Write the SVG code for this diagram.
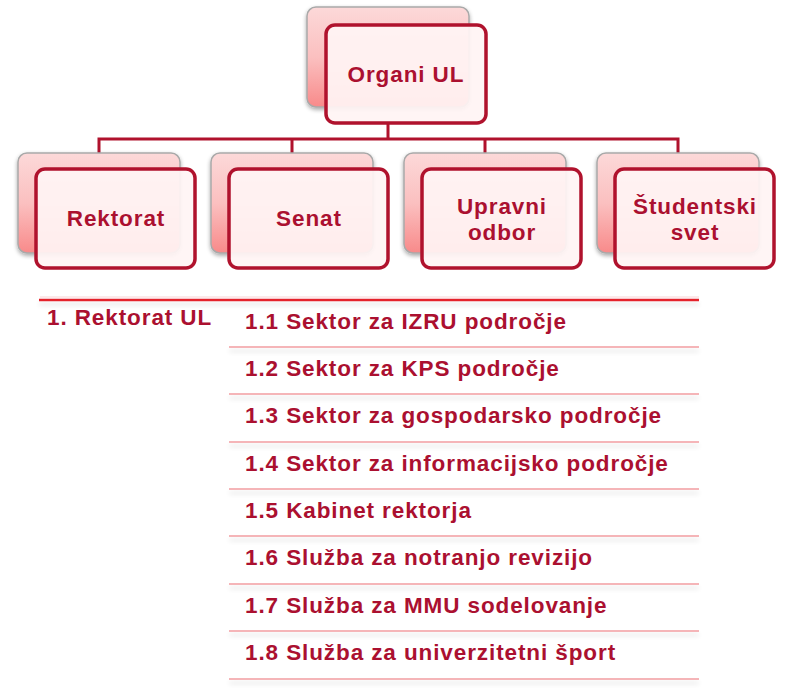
<svg xmlns="http://www.w3.org/2000/svg" width="800" height="691" viewBox="0 0 800 691">
<defs>
  <linearGradient id="backGrad" x1="0" y1="0" x2="0" y2="1">
    <stop offset="0" stop-color="#fcd9d9"/>
    <stop offset="0.5" stop-color="#fbc0c0"/>
    <stop offset="1" stop-color="#f88a8a"/>
  </linearGradient>
  <filter id="soft" x="-10%" y="-10%" width="120%" height="130%">
    <feGaussianBlur in="SourceAlpha" stdDeviation="2"/>
    <feOffset dx="0" dy="2"/>
    <feComponentTransfer><feFuncA type="linear" slope="0.35"/></feComponentTransfer>
    <feMerge><feMergeNode/><feMergeNode in="SourceGraphic"/></feMerge>
  </filter>
  <filter id="lineShadow" filterUnits="userSpaceOnUse" x="0" y="0" width="800" height="691">
    <feGaussianBlur in="SourceAlpha" stdDeviation="2.5"/>
    <feOffset dx="0" dy="4"/>
    <feComponentTransfer><feFuncA type="linear" slope="0.12"/></feComponentTransfer>
    <feMerge><feMergeNode/><feMergeNode in="SourceGraphic"/></feMerge>
  </filter>
</defs>
<style>
  .back { fill: url(#backGrad); stroke: #a9a9a9; stroke-width: 1.5; }
  .front { fill: #fff4f4; fill-opacity: 0.93; stroke: #b0122d; stroke-width: 3.5; }
  .conn { fill: none; stroke: #b0122d; stroke-width: 3; }
  .lbl { font-family: "Liberation Sans", Arial, sans-serif; font-weight: bold; font-size: 22.5px; letter-spacing: 0.9px; fill: #ab1030; }
  .mid { text-anchor: middle; }
  .sep { stroke: #f5b5b8; stroke-width: 2; }
  .main { stroke: #e4242c; stroke-width: 2.5; }
</style>
<rect width="800" height="691" fill="#ffffff"/>

<g id="connectors">
  <path class="conn" d="M388 123 V139 M99 153 V139 H678 V153 M292 139 V153 M485 139 V153"/>
</g>

<g id="node-organi">
  <rect class="back" x="307" y="7" width="162" height="100" rx="9" filter="url(#soft)"/>
  <rect class="front" x="326" y="25" width="160" height="98" rx="9"/>
  <text class="lbl mid" x="406" y="82">Organi UL</text>
</g>

<g id="node-rektorat">
  <rect class="back" x="18" y="153" width="162" height="100" rx="9" filter="url(#soft)"/>
  <rect class="front" x="36" y="169" width="159" height="99" rx="9"/>
  <text class="lbl mid" x="116" y="226">Rektorat</text>
</g>

<g id="node-senat">
  <rect class="back" x="211" y="153" width="162" height="100" rx="9" filter="url(#soft)"/>
  <rect class="front" x="229" y="169" width="159" height="99" rx="9"/>
  <text class="lbl mid" x="309" y="226">Senat</text>
</g>

<g id="node-upravni">
  <rect class="back" x="404" y="153" width="162" height="100" rx="9" filter="url(#soft)"/>
  <rect class="front" x="422" y="169" width="159" height="99" rx="9"/>
  <text class="lbl mid" x="502" y="214">Upravni</text>
  <text class="lbl mid" x="502" y="240">odbor</text>
</g>

<g id="node-studentski">
  <rect class="back" x="597" y="153" width="162" height="100" rx="9" filter="url(#soft)"/>
  <rect class="front" x="615" y="169" width="159" height="99" rx="9"/>
  <text class="lbl mid" x="695" y="214">Študentski</text>
  <text class="lbl mid" x="695" y="240">svet</text>
</g>

<g id="list">
  <line x1="40" y1="297" x2="699" y2="297" stroke="#fbd3d4" stroke-width="1"/>
  <line class="main" x1="39" y1="300" x2="699" y2="300" filter="url(#lineShadow)"/>
  <g filter="url(#lineShadow)">
    <line class="sep" x1="229" y1="347" x2="699" y2="347"/>
    <line class="sep" x1="229" y1="394" x2="699" y2="394"/>
    <line class="sep" x1="229" y1="442" x2="699" y2="442"/>
    <line class="sep" x1="229" y1="489" x2="699" y2="489"/>
    <line class="sep" x1="229" y1="536" x2="699" y2="536"/>
    <line class="sep" x1="229" y1="584" x2="699" y2="584"/>
    <line class="sep" x1="229" y1="631" x2="699" y2="631"/>
    <line class="sep" x1="229" y1="679" x2="699" y2="679"/>
  </g>
  <text class="lbl" x="47" y="325">1. Rektorat UL</text>
  <text class="lbl" x="245" y="329">1.1 Sektor za IZRU področje</text>
  <text class="lbl" x="245" y="376">1.2 Sektor za KPS področje</text>
  <text class="lbl" x="245" y="423">1.3 Sektor za gospodarsko področje</text>
  <text class="lbl" x="245" y="471">1.4 Sektor za informacijsko področje</text>
  <text class="lbl" x="245" y="518">1.5 Kabinet rektorja</text>
  <text class="lbl" x="245" y="565">1.6 Služba za notranjo revizijo</text>
  <text class="lbl" x="245" y="613">1.7 Služba za MMU sodelovanje</text>
  <text class="lbl" x="245" y="660">1.8 Služba za univerzitetni šport</text>
</g>
</svg>
